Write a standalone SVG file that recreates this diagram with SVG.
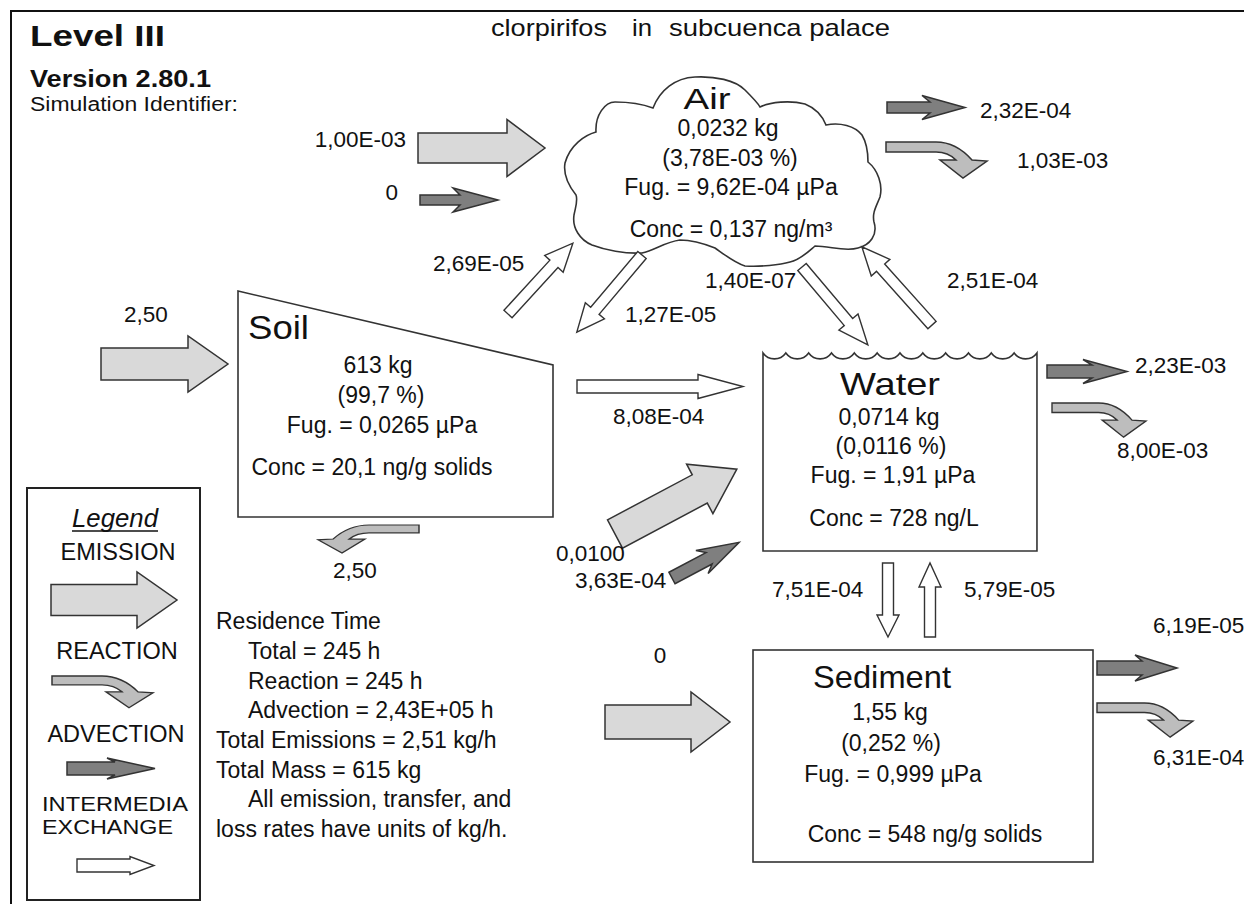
<svg xmlns="http://www.w3.org/2000/svg" width="1244" height="904" viewBox="0 0 1244 904">
<style>
text{font-family:"Liberation Sans",Arial,Helvetica,sans-serif;fill:#111}
.lbl{font-size:22.5px}
.body{font-size:23px}
.mid{text-anchor:middle}
.end{text-anchor:end}
.big{font-size:32px}
.leg{font-size:23.5px}
.box{fill:#fff;stroke:#333;stroke-width:1.6}
.em{fill:#d9d9d9;stroke:#333;stroke-width:1.5;stroke-linejoin:miter}
.rx{fill:#bdbdbd;stroke:#333;stroke-width:1.5}
.adv{fill:#7f7f7f;stroke:#333;stroke-width:1.5}
.ex{fill:#fff;stroke:#333;stroke-width:1.4}
</style>
<defs>
<path id="react" d="M0,0 H50 C66,0 78,9 86,18 L101,19 L77,36 L54,18 L70,18 C64,12 58,10 50,10 H0 Z"/>
</defs>
<rect width="1244" height="904" fill="#fff"/>
<path d="M11,904 V11 H1244" fill="none" stroke="#111" stroke-width="2"/>

<g id="header">
<text x="30" y="46" font-size="30" font-weight="bold" textLength="135" lengthAdjust="spacingAndGlyphs">Level III</text>
<text x="30" y="87" font-size="23" font-weight="bold" textLength="181" lengthAdjust="spacingAndGlyphs">Version 2.80.1</text>
<text x="30" y="111" font-size="20" textLength="208" lengthAdjust="spacingAndGlyphs">Simulation Identifier:</text>
<text x="491" y="36" font-size="24" textLength="116" lengthAdjust="spacingAndGlyphs">clorpirifos</text>
<text x="632" y="36" font-size="24" textLength="20" lengthAdjust="spacingAndGlyphs">in</text>
<text x="669" y="36" font-size="24" textLength="221" lengthAdjust="spacingAndGlyphs">subcuenca palace</text>
</g>

<g id="air">
<path class="box" d="M565,163 C570,145 585,135 596,132 C595,115 605,102 615,102 C630,102 645,105 653,108 C660,90 675,78 695,77 C715,76 735,80 745,90 C752,97 758,103 760,107 C770,102 790,100 805,104 C815,108 822,115 826,125 C840,122 855,126 862,135 C868,145 868,155 868,162 C878,170 883,185 880,197 C876,207 872,213 874,222 C878,235 870,245 858,248 C845,252 830,246 815,246 C808,252 800,260 790,262 C780,265 760,267 745,266 C735,263 725,255 715,248 C700,242 690,240 680,240 C665,242 655,250 642,253 C625,254 605,250 592,245 C580,240 572,228 574,215 C576,205 578,200 576,195 C568,185 563,175 565,163 Z"/>
<text x="707" y="109" font-size="30" class="mid" textLength="47" lengthAdjust="spacingAndGlyphs">Air</text>
<text x="728" y="136" class="body mid">0,0232 kg</text>
<text x="730" y="166" class="body mid">(3,78E-03 %)</text>
<text x="731" y="195" class="body mid">Fug. = 9,62E-04 µPa</text>
<text x="731" y="237" class="body mid">Conc = 0,137 ng/m³</text>
</g>

<g id="soil">
<path class="box" d="M238,291 L553,365 L553,517 L238,517 Z"/>
<text x="248" y="339" font-size="34" textLength="61" lengthAdjust="spacingAndGlyphs">Soil</text>
<text x="378" y="373" class="body mid">613 kg</text>
<text x="381" y="403" class="body mid">(99,7 %)</text>
<text x="382" y="433" class="body mid">Fug. = 0,0265 µPa</text>
<text x="372" y="475" class="body mid">Conc = 20,1 ng/g solids</text>
</g>

<g id="water">
<path class="box" d="M763,353 a14,14 0 0 0 22.83,0 a14,14 0 0 0 22.83,0 a14,14 0 0 0 22.83,0 a14,14 0 0 0 22.83,0 a14,14 0 0 0 22.83,0 a14,14 0 0 0 22.83,0 a14,14 0 0 0 22.83,0 a14,14 0 0 0 22.83,0 a14,14 0 0 0 22.83,0 a14,14 0 0 0 22.83,0 a14,14 0 0 0 22.83,0 a14,14 0 0 0 22.83,0 V551 H763 Z"/>
<text x="840" y="395" class="big" textLength="100" lengthAdjust="spacingAndGlyphs">Water</text>
<text x="889" y="425" class="body mid">0,0714 kg</text>
<text x="891" y="454" class="body mid">(0,0116 %)</text>
<text x="893" y="483" class="body mid">Fug. = 1,91 µPa</text>
<text x="894" y="526" class="body mid">Conc = 728 ng/L</text>
</g>

<g id="sediment">
<rect class="box" x="753" y="650" width="340" height="212"/>
<text x="813" y="688" class="big" textLength="138" lengthAdjust="spacingAndGlyphs">Sediment</text>
<text x="890" y="720" class="body mid">1,55 kg</text>
<text x="891" y="751" class="body mid">(0,252 %)</text>
<text x="893" y="782" class="body mid">Fug. = 0,999 µPa</text>
<text x="925" y="842" class="body mid">Conc = 548 ng/g solids</text>
</g>

<g id="connectors">
<path class="em" transform="translate(418,148)" d="M0,-15 H89 V-28.5 L127,0 L89,28.5 V15 H0 Z"/>
<path class="em" transform="translate(101,364)" d="M0,-16 H87 V-28 L127,0 L87,28 V16 H0 Z"/>
<path class="em" transform="translate(615,534) rotate(-28)" d="M0,-16 H96 V-28 L138,0 L96,28 V16 H0 Z"/>
<path class="em" transform="translate(605,722)" d="M0,-17 H86 V-30 L125,0 L86,30 V17 H0 Z"/>
<path class="adv" transform="translate(420,200)" d="M0,-5 H40 L33,-12 L78,0 L33,12 L40,5 H0 Z"/>
<path class="adv" transform="translate(887,107.5)" d="M0,-5.5 H43 L35,-12 L78,0 L35,12 L43,5.5 H0 Z"/>
<path class="adv" transform="translate(1047,371.5)" d="M0,-6.5 H45 L36,-12 L80,0 L36,12 L45,6.5 H0 Z"/>
<path class="adv" transform="translate(672,578) rotate(-28)" d="M0,-6.5 H42 L34,-13 L76,0 L34,13 L42,6.5 H0 Z"/>
<path class="adv" transform="translate(1097,668)" d="M0,-7 H45 L38,-13 L80,0 L38,13 L45,7 H0 Z"/>
<use href="#react" class="rx" transform="translate(886,142)"/>
<use href="#react" class="rx" transform="translate(1052,403) scale(0.93,0.95)"/>
<use href="#react" class="rx" transform="translate(1097,703) scale(0.95)"/>
<use href="#react" class="rx" transform="translate(419,525) scale(-1,0.78)"/>
<path class="ex" transform="translate(577,386.5)" d="M0,-6.5 H121 V-12 L166,0 L121,12 V6.5 H0 Z"/>
<path class="ex" transform="translate(508,314) rotate(-47.5)" d="M0,-5.5 H68 V-12.5 L96,0 L68,12.5 V5.5 H0 Z"/>
<path class="ex" transform="translate(642,255) rotate(130.2)" d="M0,-5.5 H73 V-12.5 L101,0 L73,12.5 V5.5 H0 Z"/>
<path class="ex" transform="translate(802,267) rotate(49.8)" d="M0,-5.5 H72 V-12.5 L102,0 L72,12.5 V5.5 H0 Z"/>
<path class="ex" transform="translate(932,325) rotate(-131.9)" d="M0,-5.5 H77 V-12.5 L105,0 L77,12.5 V5.5 H0 Z"/>
<path class="ex" transform="translate(888,563) rotate(90)" d="M0,-5.5 H52 V-11 L74,0 L52,11 V5.5 H0 Z"/>
<path class="ex" transform="translate(930,637) rotate(-90)" d="M0,-5.5 H50 V-11 L74,0 L50,11 V5.5 H0 Z"/>
</g>

<g id="labels">
<text x="406" y="147" class="lbl end">1,00E-03</text>
<text x="398" y="200" class="lbl end">0</text>
<text x="980" y="118" class="lbl">2,32E-04</text>
<text x="1017" y="168" class="lbl">1,03E-03</text>
<text x="433" y="271" class="lbl">2,69E-05</text>
<text x="625" y="322" class="lbl">1,27E-05</text>
<text x="705" y="288" class="lbl">1,40E-07</text>
<text x="947" y="288" class="lbl">2,51E-04</text>
<text x="146" y="322" class="lbl mid">2,50</text>
<text x="355" y="578" class="lbl mid">2,50</text>
<text x="613" y="424" class="lbl">8,08E-04</text>
<text x="556" y="561" class="lbl">0,0100</text>
<text x="575" y="588" class="lbl">3,63E-04</text>
<text x="1135" y="373" class="lbl">2,23E-03</text>
<text x="1117" y="458" class="lbl">8,00E-03</text>
<text x="772" y="597" class="lbl">7,51E-04</text>
<text x="964" y="597" class="lbl">5,79E-05</text>
<text x="1153" y="633" class="lbl">6,19E-05</text>
<text x="1153" y="765" class="lbl">6,31E-04</text>
<text x="660" y="663" class="lbl mid">0</text>
</g>

<g id="summary">
<text x="216" y="629" class="body">Residence Time</text>
<text x="248" y="659" class="body">Total = 245 h</text>
<text x="248" y="689" class="body">Reaction = 245 h</text>
<text x="248" y="718" class="body">Advection = 2,43E+05 h</text>
<text x="216" y="748" class="body">Total Emissions = 2,51 kg/h</text>
<text x="216" y="778" class="body">Total Mass = 615 kg</text>
<text x="248" y="807" class="body">All emission, transfer, and</text>
<text x="216" y="837" class="body">loss rates have units of kg/h.</text>
</g>

<g id="legend">
<rect x="27" y="488" width="173" height="412" fill="#fff" stroke="#222" stroke-width="2"/>
<text x="115" y="527" font-size="25" font-style="italic" class="mid" textLength="86" lengthAdjust="spacingAndGlyphs">Legend</text>
<line x1="72" y1="531" x2="158" y2="531" stroke="#111" stroke-width="1.5"/>
<text x="118" y="560" class="leg mid">EMISSION</text>
<path class="em" transform="translate(51,600)" d="M0,-15.5 H86 V-28 L126,0 L86,28 V15.5 H0 Z"/>
<text x="117" y="659" class="leg mid">REACTION</text>
<use href="#react" class="rx" transform="translate(52,676) scale(1,0.88)"/>
<text x="116" y="742" class="leg mid">ADVECTION</text>
<path class="adv" transform="translate(67,768.5)" d="M0,-6.5 H48 L40,-10.5 L88,0 L40,10.5 L48,6.5 H0 Z"/>
<text x="42" y="811" font-size="21" textLength="146" lengthAdjust="spacingAndGlyphs">INTERMEDIA</text>
<text x="42" y="834" font-size="21" textLength="131" lengthAdjust="spacingAndGlyphs">EXCHANGE</text>
<path class="ex" transform="translate(77,865.5)" d="M0,-6.5 H53 V-9 L77,0 L53,9 V6.5 H0 Z"/>
</g>
</svg>
